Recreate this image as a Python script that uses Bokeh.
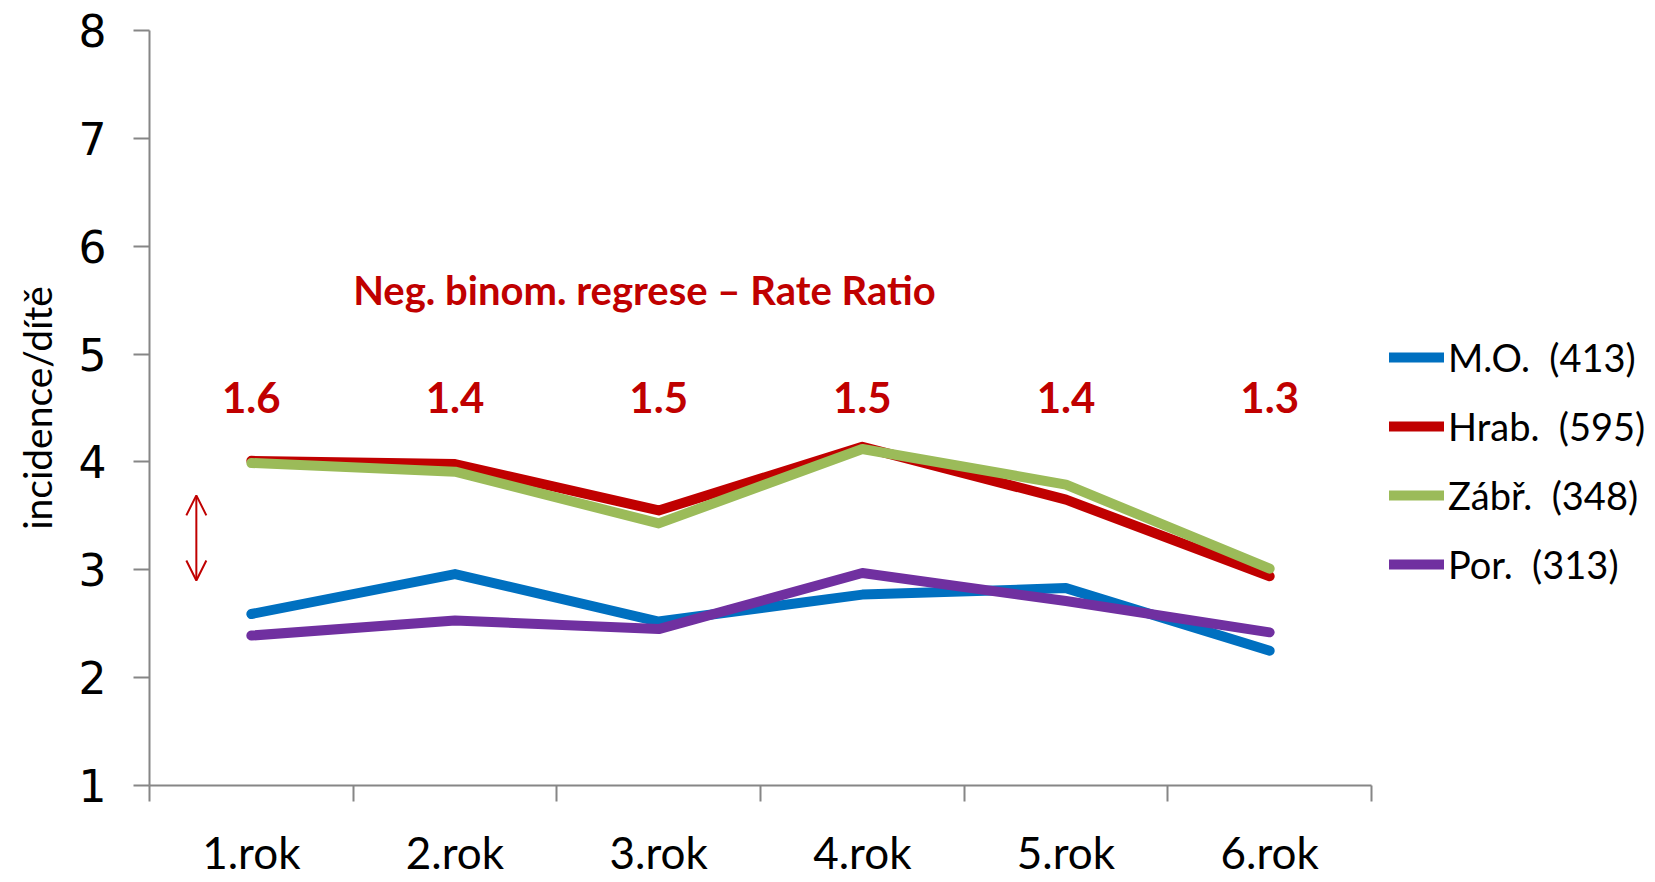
from bokeh.plotting import figure
from bokeh.models import (Range1d, LinearAxis, FixedTicker, Legend, LegendItem,
                          Arrow, OpenHead, Label)
from bokeh.core.properties import value
from bokeh.embed import file_html
from bokeh.resources import INLINE

# ---- data ----
categories = ["1.rok", "2.rok", "3.rok", "4.rok", "5.rok", "6.rok"]
mo = [2.59, 2.96, 2.52, 2.77, 2.83, 2.25]
hrab = [4.01, 3.98, 3.55, 4.14, 3.65, 2.94]
zabr = [3.99, 3.91, 3.43, 4.12, 3.79, 3.01]
por = [2.39, 2.53, 2.45, 2.97, 2.71, 2.42]
series_names = ["M.O.  (413)", "Hrab.  (595)", "Zábř.  (348)", "Por.  (313)"]
rate_ratios = ["1.6", "1.4", "1.5", "1.5", "1.4", "1.3"]
rate_label_y = 4.6
title_text = "Neg. binom. regrese \u2013 Rate Ratio"
title_pos = (2.43, 5.59)
arrow_pos = (0.23, 3.69, 2.90)
y_ticks = [1, 2, 3, 4, 5, 6, 7, 8]

colors = ["#0070C0", "#C00000", "#9BBB59", "#7030A0"]
RED = "#C00000"
GRAY = "#868686"
FONT = "Lato"

# layout (pixels)
W, H = 1652, 880
LEFT, TOP, BOTTOM = 149, 30, 93
PLOT_W = 1222  # width of the category area; the rest on the right holds the legend
frame_w = W - LEFT

# category slots: each category occupies one unit, centred at i + 0.5
n = len(categories)
mids = [i + 0.5 for i in range(n)]
edges = list(range(n + 1))

p = figure(width=W, height=H,
           x_range=Range1d(0, n * frame_w / PLOT_W), y_range=Range1d(1, 8),
           x_axis_type=None, y_axis_type=None,
           toolbar_location=None, output_backend="svg",
           min_border_left=LEFT, min_border_top=TOP, min_border_right=0, min_border_bottom=BOTTOM)
p.outline_line_color = None
p.xgrid.visible = False
p.ygrid.visible = False
p.background_fill_color = "white"
p.border_fill_color = "white"

xaxis = LinearAxis(ticker=FixedTicker(ticks=mids, minor_ticks=edges), bounds=(0, n),
                   major_label_overrides={m: c for m, c in zip(mids, categories)})
xaxis.axis_line_color = GRAY
xaxis.axis_line_width = 2
xaxis.major_tick_line_color = None
xaxis.major_tick_out = 16
xaxis.major_tick_in = 0
xaxis.minor_tick_line_color = GRAY
xaxis.minor_tick_line_width = 2
xaxis.minor_tick_out = 16
xaxis.minor_tick_in = 0
xaxis.major_label_standoff = 24
xaxis.major_label_text_font = FONT
xaxis.major_label_text_font_size = "44px"
xaxis.major_label_text_color = "black"
p.add_layout(xaxis, "below")

yaxis = LinearAxis(ticker=FixedTicker(ticks=y_ticks))
yaxis.axis_line_color = GRAY
yaxis.axis_line_width = 2
yaxis.major_tick_line_color = GRAY
yaxis.major_tick_line_width = 2
yaxis.major_tick_out = 16
yaxis.major_tick_in = 0
yaxis.minor_tick_line_color = None
yaxis.major_label_standoff = 27
yaxis.major_label_text_font = "DejaVu Sans"
yaxis.major_label_text_font_size = "44px"
yaxis.major_label_text_color = "black"
yaxis.axis_label = "incidence/dítě"
yaxis.axis_label_text_font = FONT
yaxis.axis_label_text_font_size = "39px"
yaxis.axis_label_text_font_style = "normal"
yaxis.axis_label_text_color = "black"
yaxis.axis_label_standoff = 16
p.add_layout(yaxis, "left")

renderers = []
for vals, col in zip([mo, hrab, zabr, por], colors):
    r = p.line(mids, vals, line_color=col, line_width=10,
               line_cap="round", line_join="round")
    renderers.append(r)

legend = Legend(items=[LegendItem(label=nm, renderers=[r]) for nm, r in zip(series_names, renderers)],
                location=(PLOT_W + 18, 198))
legend.border_line_color = None
legend.background_fill_alpha = 0
legend.padding = 0
legend.margin = 0
legend.spacing = 23
legend.glyph_width = 55
legend.glyph_height = 30
legend.label_height = 30
legend.label_standoff = 4
legend.label_text_font = FONT
legend.label_text_font_size = "38px"
legend.label_text_color = "black"
p.add_layout(legend, "center")

p.text(x=mids, y=[rate_label_y] * n, text=rate_ratios,
       text_font=value(FONT), text_font_style="bold", text_font_size="42px",
       text_color=RED, text_align="center", text_baseline="middle")

p.add_layout(Label(x=title_pos[0], y=title_pos[1], text=title_text,
                   text_font=FONT, text_font_style="bold", text_font_size="40px",
                   text_color=RED, text_align="center", text_baseline="middle"))

p.add_layout(Arrow(x_start=arrow_pos[0], y_start=arrow_pos[2], x_end=arrow_pos[0], y_end=arrow_pos[1],
                   line_color=RED, line_width=2,
                   start=OpenHead(size=20, line_color=RED, line_width=2),
                   end=OpenHead(size=20, line_color=RED, line_width=2)))

open("out.html", "w").write(file_html(p, INLINE))
